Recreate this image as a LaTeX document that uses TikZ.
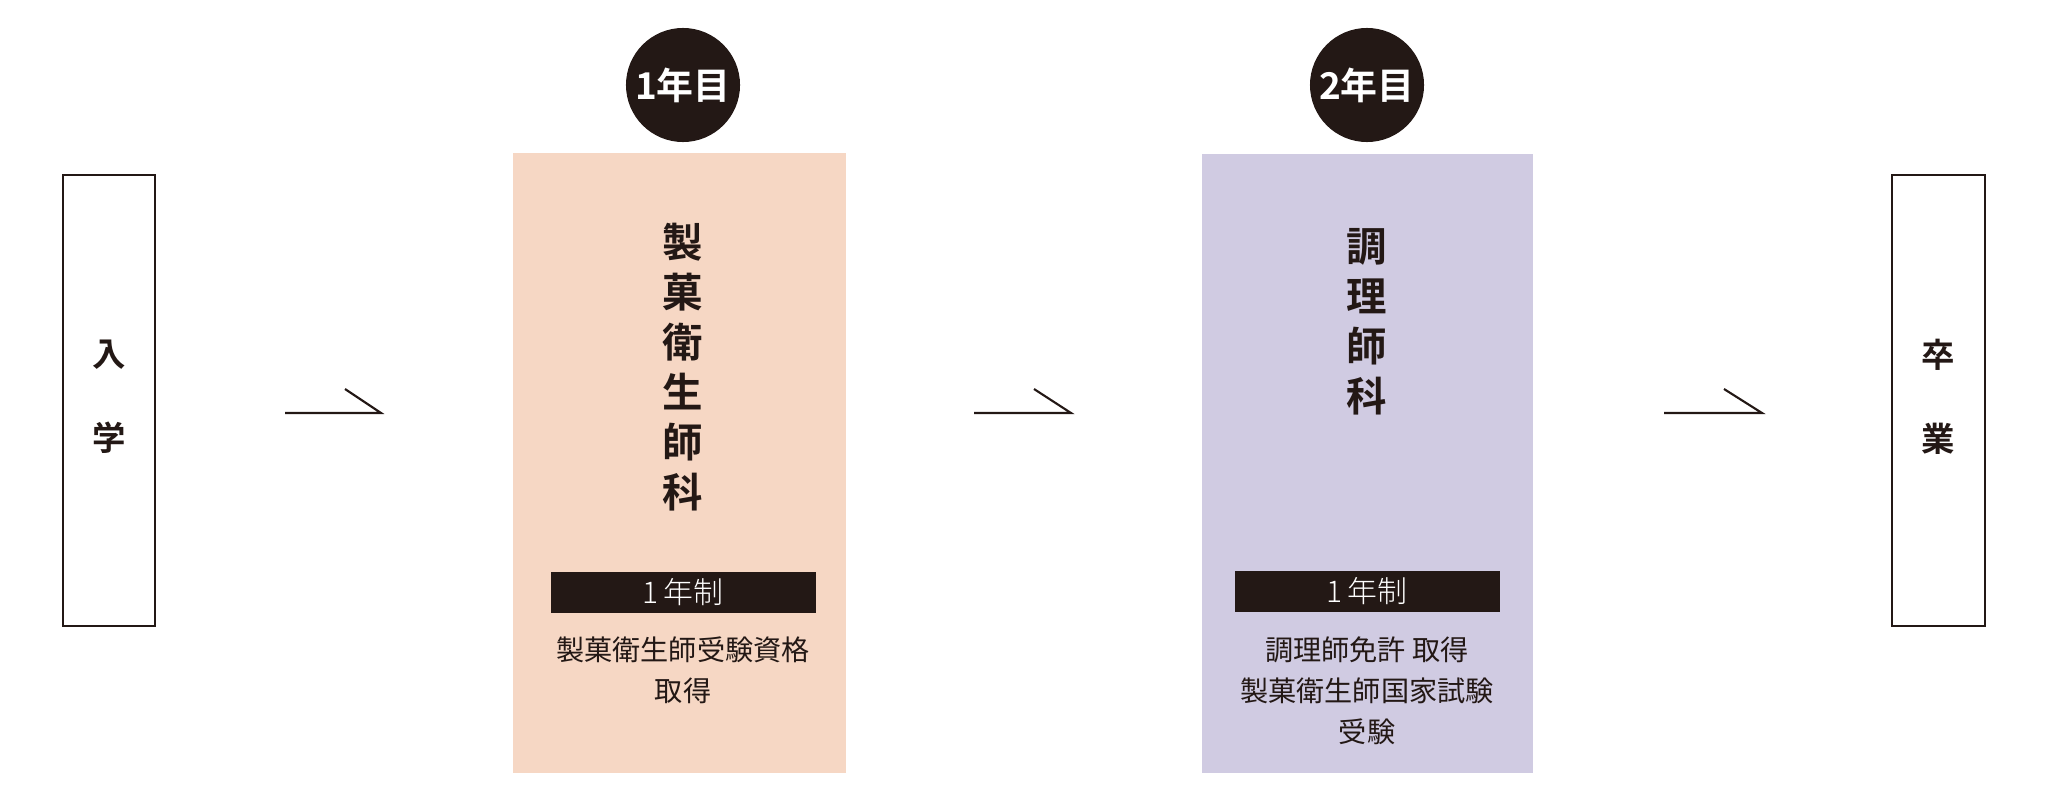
\documentclass[tikz,border=0pt]{standalone}
\usepackage{fontspec}
\newfontfamily\jp{Noto Sans CJK JP}
\newfontfamily\jpl{Noto Sans CJK JP Light}
\newfontfamily\jpb{Noto Sans CJK JP Bold}
\definecolor{pinkbg}{HTML}{F6D7C4}
\definecolor{purplebg}{HTML}{D0CBE2}
\definecolor{ink}{HTML}{231815}
\begin{document}
\begin{tikzpicture}[x=0.01cm,y=-0.01cm,
  endbox/.style={draw=ink,line width=0.7pt,inner sep=0},
  yearcirc/.style={circle,fill=ink,minimum size=1.14cm,inner sep=0,text=white,font=\jpb\fontsize{10.5}{12}\selectfont},
  vtitle/.style={align=center,text=ink,font=\jpb\fontsize{11.5}{14.2}\selectfont},
  sub/.style={align=center,text=ink,font=\jp\fontsize{8}{11.6}\selectfont},
  bartext/.style={text=white,font=\jpl\fontsize{8.5}{9}\selectfont},
  endtext/.style={align=center,text=ink,font=\jpb\fontsize{9.5}{24}\selectfont},
  flow/.style={draw=ink,line width=0.6pt}]
\useasboundingbox (0,0) rectangle (2048,800);
% boxes
\fill[pinkbg] (513,153) rectangle (846,773);
\fill[purplebg] (1202,154) rectangle (1533,773);
\draw[endbox] (63,175) rectangle (155,626);
\draw[endbox] (1892,175) rectangle (1985,626);
\node[endtext] (in) at (109,397) {入\\学};
\node[endtext] (out) at (1938,397) {卒\\業};
% circles
\node[yearcirc] (y1) at (683,85) {1年目};
\node[yearcirc] (y2) at (1367,85) {2年目};
% titles
\node[vtitle] (t1) at (683,367) {製\\菓\\衛\\生\\師\\科};
\node[vtitle] (t2) at (1367,322) {調\\理\\師\\科};
% bars
\fill[ink] (551,572) rectangle (816,613);
\fill[ink] (1235,571) rectangle (1500,612);
\node[bartext] (b1) at (683,592) {1\,年制};
\node[bartext] (b2) at (1367,591) {1\,年制};
\node[sub] (s1) at (683,670) {製菓衛生師受験資格\\取得};
\node[sub] (s2) at (1367,691) {調理師免許 取得\\製菓衛生師国家試験\\受験};
% arrows
\coordinate (a1s) at (285,413); \coordinate (a1e) at (381,413); \coordinate (a1t) at (345,389);
\coordinate (a2s) at (974,413); \coordinate (a2e) at (1071,413); \coordinate (a2t) at (1034,389);
\coordinate (a3s) at (1664,413); \coordinate (a3e) at (1762,413); \coordinate (a3t) at (1724,389);
\draw[flow] (a1s) -- (a1e) -- (a1t);
\draw[flow] (a2s) -- (a2e) -- (a2t);
\draw[flow] (a3s) -- (a3e) -- (a3t);
\end{tikzpicture}
\end{document}
